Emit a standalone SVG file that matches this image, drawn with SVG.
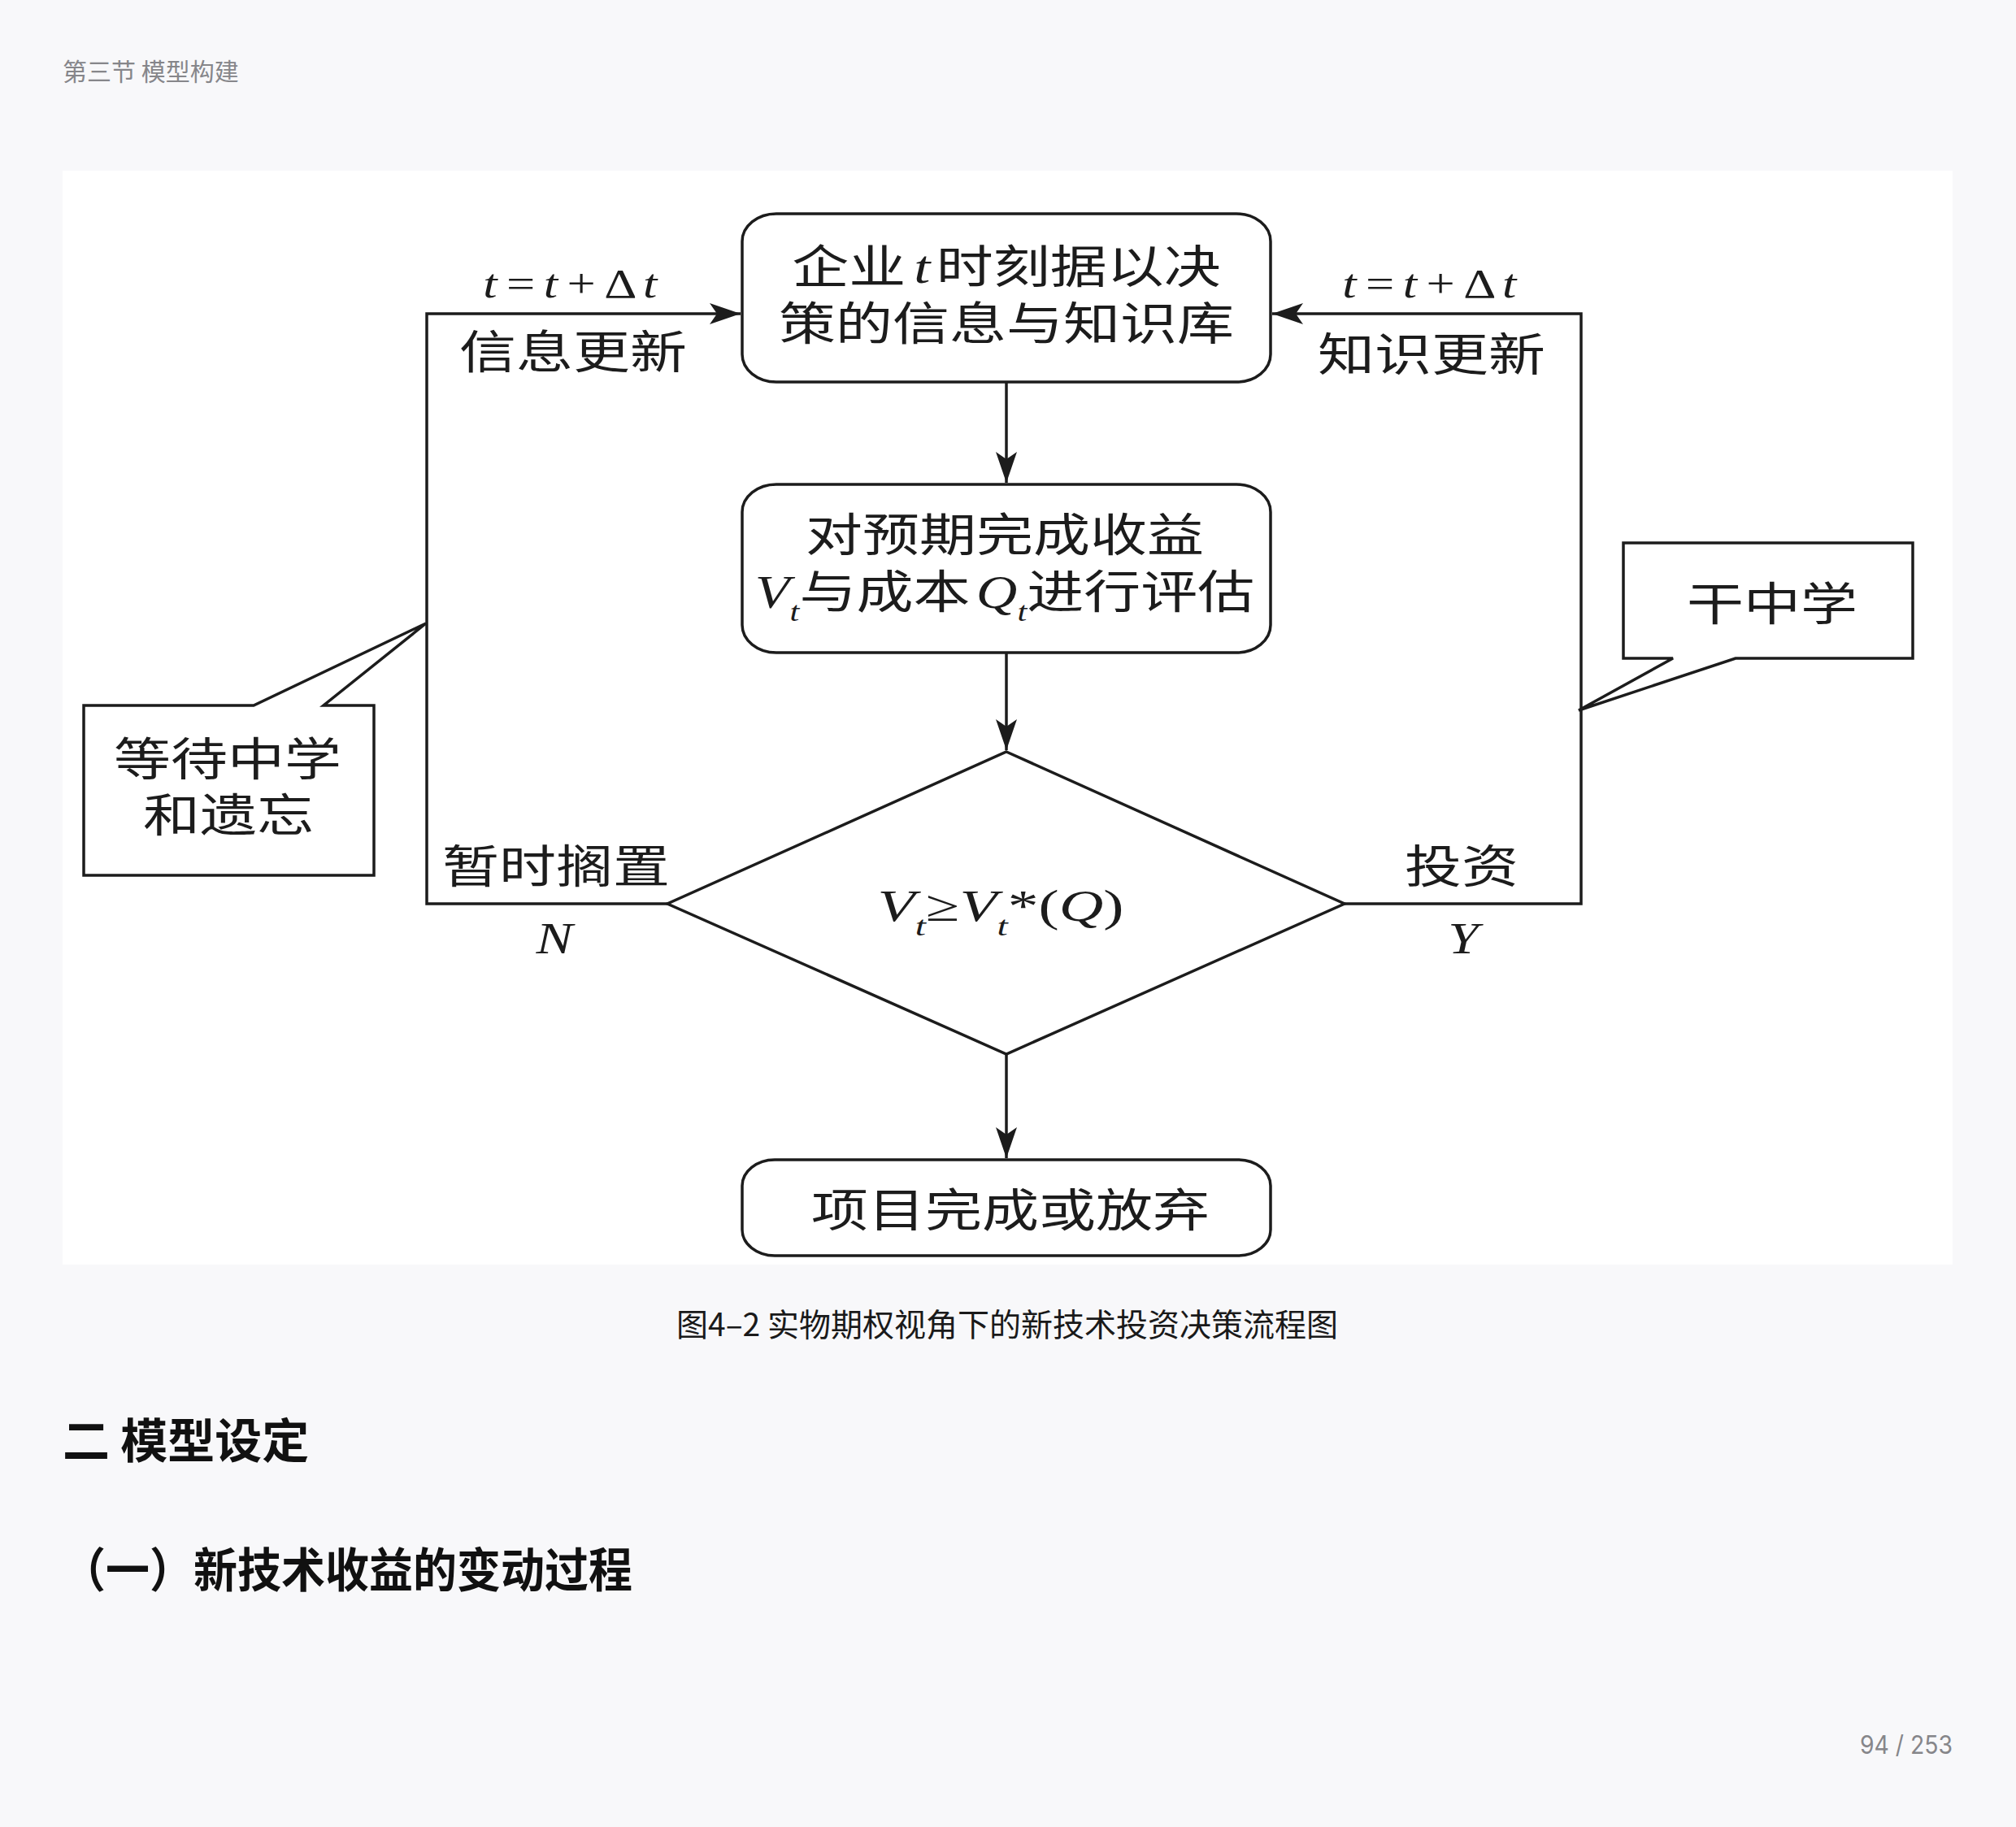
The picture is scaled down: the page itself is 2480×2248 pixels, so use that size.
<svg xmlns="http://www.w3.org/2000/svg" width="2480" height="2248" viewBox="0 0 2480 2248">
  <style>
    .page { fill: #f8f8fa; }
    .panel { fill: #ffffff; }
    .shape { fill: #ffffff; stroke: #1c1c1c; stroke-width: 3.5; stroke-linejoin: miter; }
    .line { fill: none; stroke: #1c1c1c; stroke-width: 3.5; }
    .cjk { font-family: 'Noto Sans CJK SC', 'Noto Sans', sans-serif; font-size: 56px; fill: #1c1c1c; }
    .it { font-family: 'Liberation Serif', serif; font-style: italic; }
    .up { font-family: 'Liberation Serif', serif; font-style: normal; }
    .hdr { font-family: 'Noto Sans CJK SC', sans-serif; font-size: 30px; fill: #86868a; }
    .pnum { font-family: Inter, 'Noto Sans', sans-serif; font-size: 31px; fill: #86868a; }
    .cap { font-family: 'Noto Sans CJK SC', sans-serif; font-size: 39px; fill: #1a1a1a; }
    .h2 { font-family: 'Noto Sans CJK SC', sans-serif; font-size: 58px; font-weight: bold; fill: #111111; }
  </style>
  <defs>
    <marker id="arrow" markerUnits="userSpaceOnUse" markerWidth="40" markerHeight="28" refX="38" refY="13" orient="auto">
      <path d="M0,0 L38,13 L0,26 L9,13 z" fill="#1c1c1c"/>
    </marker>
  </defs>

  <rect class="page" x="0" y="0" width="2480" height="2248"/>
  <text class="hdr" x="77" y="99">第三节 模型构建</text>

  <rect class="panel" x="77" y="210" width="2325" height="1346"/>

  <!-- connectors -->
  <g id="connectors">
    <path class="line" d="M1238,470 V594" marker-end="url(#arrow)"/>
    <path class="line" d="M1238,803 V923" marker-end="url(#arrow)"/>
    <path class="line" d="M1238,1297 V1425" marker-end="url(#arrow)"/>
    <path class="line" d="M821,1112 H525 V386 H911" marker-end="url(#arrow)"/>
    <path class="line" d="M1654,1112 H1945 V386 H1565" marker-end="url(#arrow)"/>
  </g>

  <g id="edge-labels">
    <text class="cjk it" transform="translate(705,366) scale(1.25,1)" text-anchor="middle" style="font-size:50px" letter-spacing="6">t=t+<tspan class="up">Δ</tspan>t</text>
    <text class="cjk" transform="translate(705,453) scale(1.25,1)" text-anchor="middle">信息更新</text>
    <text class="cjk it" transform="translate(1762,366) scale(1.25,1)" text-anchor="middle" style="font-size:50px" letter-spacing="6">t=t+<tspan class="up">Δ</tspan>t</text>
    <text class="cjk" transform="translate(1761,456) scale(1.25,1)" text-anchor="middle">知识更新</text>
    <text class="cjk" transform="translate(684,1086) scale(1.25,1)" text-anchor="middle">暂时搁置</text>
    <text class="cjk it" transform="translate(682,1173) scale(1.25,1)" text-anchor="middle" style="font-size:54px">N</text>
    <text class="cjk" transform="translate(1798,1086) scale(1.25,1)" text-anchor="middle">投资</text>
    <text class="cjk it" transform="translate(1800,1173) scale(1.25,1)" text-anchor="middle" style="font-size:54px">Y</text>
  </g>

  <g id="node-info">
    <rect class="shape" x="913" y="263" width="650" height="207" rx="42" ry="34"/>
    <text class="cjk" transform="translate(1238,348) scale(1.25,1)" text-anchor="middle">企业<tspan class="it" dx="8" style="font-size:58px">t</tspan><tspan dx="6">时刻据以决</tspan></text>
    <text class="cjk" transform="translate(1238,418) scale(1.25,1)" text-anchor="middle">策的信息与知识库</text>
  </g>

  <g id="node-eval">
    <rect class="shape" x="913" y="596" width="650" height="207" rx="42" ry="34"/>
    <text class="cjk" transform="translate(1236,678) scale(1.25,1)" text-anchor="middle">对预期完成收益</text>
    <text class="cjk" transform="translate(1236,748) scale(1.25,1)" text-anchor="middle"><tspan class="it">V</tspan><tspan class="it" style="font-size:34px" dy="16">t</tspan><tspan dy="-16">与成本</tspan><tspan class="it" dx="6">Q</tspan><tspan class="it" style="font-size:34px" dy="16">t</tspan><tspan dy="-16">进行评估</tspan></text>
  </g>

  <g id="node-decision">
    <polygon class="shape" points="1238,925 1654,1112 1238,1297 821,1112"/>
    <text class="cjk it" transform="translate(1231,1133) scale(1.4,1)" text-anchor="middle" style="font-size:54px">V<tspan style="font-size:34px" dy="18">t</tspan><tspan class="up" dy="-18">≥</tspan>V<tspan style="font-size:34px" dy="18">t</tspan><tspan class="up" dy="-18">*(</tspan>Q<tspan class="up">)</tspan></text>
  </g>

  <g id="node-end">
    <rect class="shape" x="913" y="1427" width="650" height="118" rx="40" ry="32"/>
    <text class="cjk" transform="translate(1243,1509) scale(1.25,1)" text-anchor="middle">项目完成或放弃</text>
  </g>

  <g id="callout-wait">
    <polygon class="shape" points="103,868 312,868 524,767 398,868 460,868 460,1077 103,1077"/>
    <text class="cjk" transform="translate(280,954) scale(1.25,1)" text-anchor="middle">等待中学</text>
    <text class="cjk" transform="translate(281,1023) scale(1.25,1)" text-anchor="middle">和遗忘</text>
  </g>

  <g id="callout-do">
    <polygon class="shape" points="1997,668 2353,668 2353,810 2135,810 1942,874 2058,810 1997,810"/>
    <text class="cjk" transform="translate(2180,763) scale(1.25,1)" text-anchor="middle">干中学</text>
  </g>

  <text class="cap" x="1239" y="1644" text-anchor="middle">图4–2 实物期权视角下的新技术投资决策流程图</text>

  <text class="h2" x="77" y="1794">二 模型设定</text>
  <text class="h2" x="76" y="1953" textLength="702" lengthAdjust="spacingAndGlyphs">（一）新技术收益的变动过程</text>

  <text class="pnum" x="2288" y="2158" textLength="114" lengthAdjust="spacingAndGlyphs">94 / 253</text>
</svg>
